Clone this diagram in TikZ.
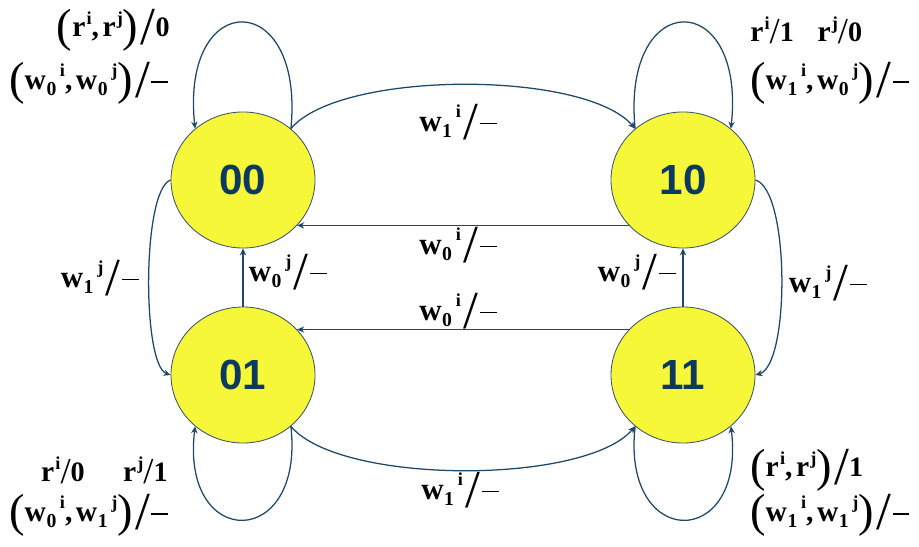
\documentclass[tikz,border=0pt]{standalone}
\usepackage{fontspec}
\setmainfont{Liberation Serif}
\newfontfamily\statefont{Liberation Sans}
\usetikzlibrary{arrows.meta,shapes.geometric}
\definecolor{stfill}{HTML}{F7F73A}
\definecolor{stline}{HTML}{3C5368}
\definecolor{arcol}{HTML}{1E4868}
\definecolor{stext}{HTML}{0C3A5E}
% symbol with subscript followed by superscript
\newcommand\sy[3]{#1\kern0.02em\raisebox{-0.45ex}{\fontsize{14}{14}\selectfont #2}\kern0.12em\raisebox{1.0ex}{\fontsize{13}{13}\selectfont #3}}
% symbol with superscript only
\newcommand\sr[2]{#1\kern0.04em\raisebox{0.9ex}{\fontsize{13}{13}\selectfont #2}}
% large thin delimiters
\newcommand\bp[1]{\raisebox{-0.32ex}{\fontsize{33}{33}\selectfont\mdseries #1}}
\newcommand\bsl{\kern0.08em\raisebox{-0.55ex}{\fontsize{38}{38}\selectfont\mdseries /}}
\newcommand\ssl{\raisebox{-0.15ex}{\fontsize{26}{26}\selectfont\mdseries /}}
\newcommand\dg[1]{{\fontsize{20}{20}\selectfont #1}}
\newcommand\dsh{\kern0.05em\rule[0.24em]{0.55em}{0.9pt}}
\newcommand\cm{,\kern0.12em}
\begin{document}
\begin{tikzpicture}[x=0.025cm,y=-0.025cm,
  state/.style={ellipse, draw=stline, line width=0.6pt, fill=stfill,
    minimum width=3.6cm, minimum height=3.4cm, inner sep=0pt,
    font=\statefont\bfseries\fontsize{30}{30}\selectfont, text=stext},
  arr/.style={draw=arcol, line width=0.9pt, -{Stealth[length=5pt,width=4.5pt]}},
  lbl/.style={inner sep=0pt, font=\bfseries\fontsize{22}{24}\selectfont},
  cor/.style={inner sep=0pt, font=\bfseries\fontsize{21}{24}\selectfont}]
\useasboundingbox (0,0) rectangle (919,546);

% states
\node[state] (s00) at (243,180) {00};
\node[state] (s10) at (683,180) {10};
\node[state] (s01) at (243,375) {01};
\node[state] (s11) at (683,375) {11};

% self loops
\draw[arr] (s00.47) .. controls (305,-13) and (180,-13) .. (s00.133);
\draw[arr] (s10.133) .. controls (621,-13) and (746,-13) .. (s10.47);
\draw[arr] (s01.-47) .. controls (305,551) and (180,551) .. (s01.-133);
\draw[arr] (s11.-133) .. controls (621,551) and (746,551) .. (s11.-47);

% curved transitions
\draw[arr] (s00.47) .. controls (340,70) and (585,70) .. (s10.133);
\draw[arr] (s01.-47) .. controls (340,485) and (585,485) .. (s11.-133);
\draw[arr] (s00.west) .. controls (142,190) and (142,365) .. (s01.west);
\draw[arr] (s10.east) .. controls (790,190) and (790,365) .. (s11.east);

% straight transitions
\draw[arr] (s10.220) -- (s00.320);
\draw[arr] (s11.140) -- (s01.40);
\draw[arr] (s01.north) -- (s00.south);
\draw[arr] (s11.north) -- (s10.south);

% transition labels
\node[lbl] (t1) at (458,122) {\sy{w}{1}{i}\bsl\dsh};
\node[lbl] (t2) at (460,490) {\sy{w}{1}{i}\bsl\dsh};
\node[lbl] (t3) at (458,245) {\sy{w}{0}{i}\bsl\dsh};
\node[lbl] (t4) at (458,311) {\sy{w}{0}{i}\bsl\dsh};
\node[lbl] (t5) at (288,272) {\sy{w}{0}{j}\bsl\dsh};
\node[lbl] (t6) at (637,272) {\sy{w}{0}{j}\bsl\dsh};
\node[lbl] (t7) at (100,278) {\sy{w}{1}{j}\bsl\dsh};
\node[lbl] (t8) at (828,283) {\sy{w}{1}{j}\bsl\dsh};

% self-loop labels
\node[cor, anchor=east] (a1) at (170,30) {\bp{(}\sr{r}{i}\cm\sr{r}{j}\bp{)}\bsl\dg{0}};
\node[cor, anchor=east] (a2) at (168,83) {\bp{(}\sy{w}{0}{i}\cm\sy{w}{0}{j}\bp{)}\bsl\dsh};
\node[cor, anchor=west] (b1) at (750,30) {\sr{r}{i}\ssl\dg{1}\hspace{0.8em}\sr{r}{j}\ssl\dg{0}};
\node[cor, anchor=west] (b2) at (750,83) {\bp{(}\sy{w}{1}{i}\cm\sy{w}{0}{j}\bp{)}\bsl\dsh};
\node[cor, anchor=east] (c1) at (168,470) {\sr{r}{i}\ssl\dg{0}\hspace{1.3em}\sr{r}{j}\ssl\dg{1}};
\node[cor, anchor=east] (c2) at (168,515) {\bp{(}\sy{w}{0}{i}\cm\sy{w}{1}{j}\bp{)}\bsl\dsh};
\node[cor, anchor=west] (d1) at (750,470) {\bp{(}\sr{r}{i}\cm\sr{r}{j}\bp{)}\bsl\dg{1}};
\node[cor, anchor=west] (d2) at (750,515) {\bp{(}\sy{w}{1}{i}\cm\sy{w}{1}{j}\bp{)}\bsl\dsh};
\end{tikzpicture}
\end{document}
